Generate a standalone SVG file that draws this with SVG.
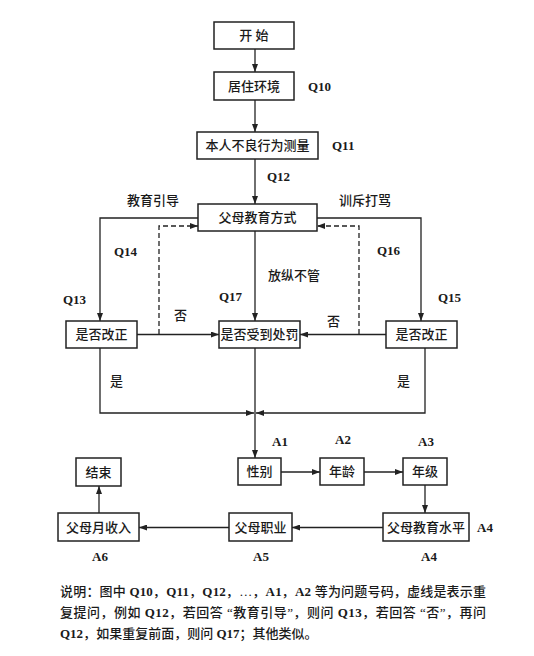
<svg xmlns="http://www.w3.org/2000/svg" width="534" height="656" viewBox="0 0 534 656">
<defs>
<style>
.bg{fill:#fff}
.box{fill:#fff;stroke:#222;stroke-width:1.5}
.ln{fill:none;stroke:#222;stroke-width:1.3}
.dash{fill:none;stroke:#222;stroke-width:1.3;stroke-dasharray:5,3}
.t{font-family:"Liberation Serif","Noto Sans CJK SC",serif;font-size:13px;fill:#1a1a1a;font-weight:500}
.c{text-anchor:middle}
.lab{font-family:"Liberation Serif","Noto Sans CJK SC",serif;font-size:13px;fill:#1a1a1a;font-weight:500}
.q{font-family:"Liberation Serif","Noto Sans CJK SC",serif;font-size:13px;fill:#1a1a1a;font-weight:bold}
.note{font-family:"Liberation Serif","Noto Sans CJK SC",serif;font-size:13px;fill:#1a1a1a;font-weight:500}
.b{font-weight:bold}
</style>
<marker id="ah" markerUnits="userSpaceOnUse" markerWidth="8" markerHeight="6" refX="8" refY="3" orient="auto">
<path d="M0,0 L8,3 L0,6 z" fill="#222"/>
</marker>
</defs>
<rect class="bg" x="0" y="0" width="534" height="656"/>

<g id="connectors">
<line class="ln" x1="255" y1="49" x2="255" y2="72" marker-end="url(#ah)"/>
<line class="ln" x1="255" y1="100" x2="255" y2="132" marker-end="url(#ah)"/>
<line class="ln" x1="255" y1="159" x2="255" y2="204" marker-end="url(#ah)"/>
<polyline class="ln" points="198,218 100,218 100,321" marker-end="url(#ah)"/>
<polyline class="ln" points="317,218 421,218 421,321" marker-end="url(#ah)"/>
<line class="ln" x1="255" y1="231" x2="255" y2="321" marker-end="url(#ah)"/>
<polyline class="dash" points="159,334 159,226 198,226" marker-end="url(#ah)"/>
<polyline class="dash" points="359,334 359,226 317,226" marker-end="url(#ah)"/>
<line class="ln" x1="137" y1="334.5" x2="219" y2="334.5" marker-end="url(#ah)"/>
<line class="ln" x1="386" y1="334.5" x2="300" y2="334.5" marker-end="url(#ah)"/>
<polyline class="ln" points="100,348 100,413 254,413" marker-end="url(#ah)"/>
<polyline class="ln" points="425,348 425,413 256,413" marker-end="url(#ah)"/>
<line class="ln" x1="255" y1="348" x2="255" y2="458" marker-end="url(#ah)"/>
<line class="ln" x1="281" y1="472" x2="320" y2="472" marker-end="url(#ah)"/>
<line class="ln" x1="364" y1="472" x2="403" y2="472" marker-end="url(#ah)"/>
<line class="ln" x1="425" y1="485" x2="425" y2="513" marker-end="url(#ah)"/>
<line class="ln" x1="383" y1="527.5" x2="292" y2="527.5" marker-end="url(#ah)"/>
<line class="ln" x1="229" y1="527.5" x2="139" y2="527.5" marker-end="url(#ah)"/>
<line class="ln" x1="99" y1="513" x2="99" y2="486" marker-end="url(#ah)"/>
</g>

<g id="n-start"><rect class="box" x="214" y="22" width="80" height="27"/><text class="t c" x="254" y="40">开 始</text></g>
<g id="n-env"><rect class="box" x="214" y="72" width="80" height="28"/><text class="t c" x="254" y="91">居住环境</text></g>
<g id="n-self"><rect class="box" x="197" y="132" width="121" height="27"/><text class="t c" x="257.5" y="150">本人不良行为测量</text></g>
<g id="n-style"><rect class="box" x="198" y="204" width="119" height="27"/><text class="t c" x="257.5" y="222">父母教育方式</text></g>
<g id="n-left"><rect class="box" x="66" y="321" width="71" height="27"/><text class="t c" x="101.5" y="339">是否改正</text></g>
<g id="n-mid"><rect class="box" x="219" y="321" width="81" height="27"/><text class="t c" x="259.5" y="339">是否受到处罚</text></g>
<g id="n-right"><rect class="box" x="386" y="321" width="71" height="27"/><text class="t c" x="421.5" y="339">是否改正</text></g>
<g id="n-sex"><rect class="box" x="238" y="458" width="43" height="27"/><text class="t c" x="259.5" y="476">性别</text></g>
<g id="n-age"><rect class="box" x="320" y="458" width="44" height="27"/><text class="t c" x="342" y="476">年龄</text></g>
<g id="n-grade"><rect class="box" x="403" y="458" width="44" height="27"/><text class="t c" x="425" y="476">年级</text></g>
<g id="n-edu"><rect class="box" x="383" y="513" width="86" height="28"/><text class="t c" x="426" y="532">父母教育水平</text></g>
<g id="n-job"><rect class="box" x="229" y="513" width="63" height="28"/><text class="t c" x="260.5" y="532">父母职业</text></g>
<g id="n-income"><rect class="box" x="58" y="513" width="81" height="28"/><text class="t c" x="98.5" y="532">父母月收入</text></g>
<g id="n-end"><rect class="box" x="76" y="458" width="45" height="28"/><text class="t c" x="98.5" y="477">结束</text></g>

<g id="labels">
<text class="q" x="308" y="91">Q10</text>
<text class="q" x="332" y="149.5">Q11</text>
<text class="q" x="267" y="181">Q12</text>
<text class="lab" x="127" y="204.5">教育引导</text>
<text class="lab" x="339" y="204.5">训斥打骂</text>
<text class="q" x="114" y="255.5">Q14</text>
<text class="q" x="377" y="254.5">Q16</text>
<text class="lab" x="268" y="279.5">放纵不管</text>
<text class="q" x="63" y="303.5">Q13</text>
<text class="q" x="219" y="300.5">Q17</text>
<text class="q" x="438" y="302">Q15</text>
<text class="lab" x="174" y="319.5">否</text>
<text class="lab" x="327" y="325.5">否</text>
<text class="lab" x="110" y="386">是</text>
<text class="lab" x="397" y="386">是</text>
<text class="q" x="272" y="445.5">A1</text>
<text class="q" x="335" y="444">A2</text>
<text class="q" x="418" y="445.5">A3</text>
<text class="q" x="477" y="531.5">A4</text>
<text class="q" x="421" y="560.5">A4</text>
<text class="q" x="253" y="560.5">A5</text>
<text class="q" x="92" y="560.5">A6</text>
</g>

<g id="note">
<text class="note" x="60" y="596" textLength="426" lengthAdjust="spacing">说明：图中 <tspan class="b">Q10</tspan>，<tspan class="b">Q11</tspan>，<tspan class="b">Q12</tspan>，…，<tspan class="b">A1</tspan>，<tspan class="b">A2</tspan> 等为问题号码，虚线是表示重</text>
<text class="note" x="60" y="617" textLength="426" lengthAdjust="spacing">复提问，例如 <tspan class="b">Q12</tspan>，若回答 “教育引导”，则问 <tspan class="b">Q13</tspan>，若回答 “否”，再问</text>
<text class="note" x="60" y="638"><tspan class="b">Q12</tspan>，如果重复前面，则问 <tspan class="b">Q17</tspan>；其他类似。</text>
</g>
</svg>
